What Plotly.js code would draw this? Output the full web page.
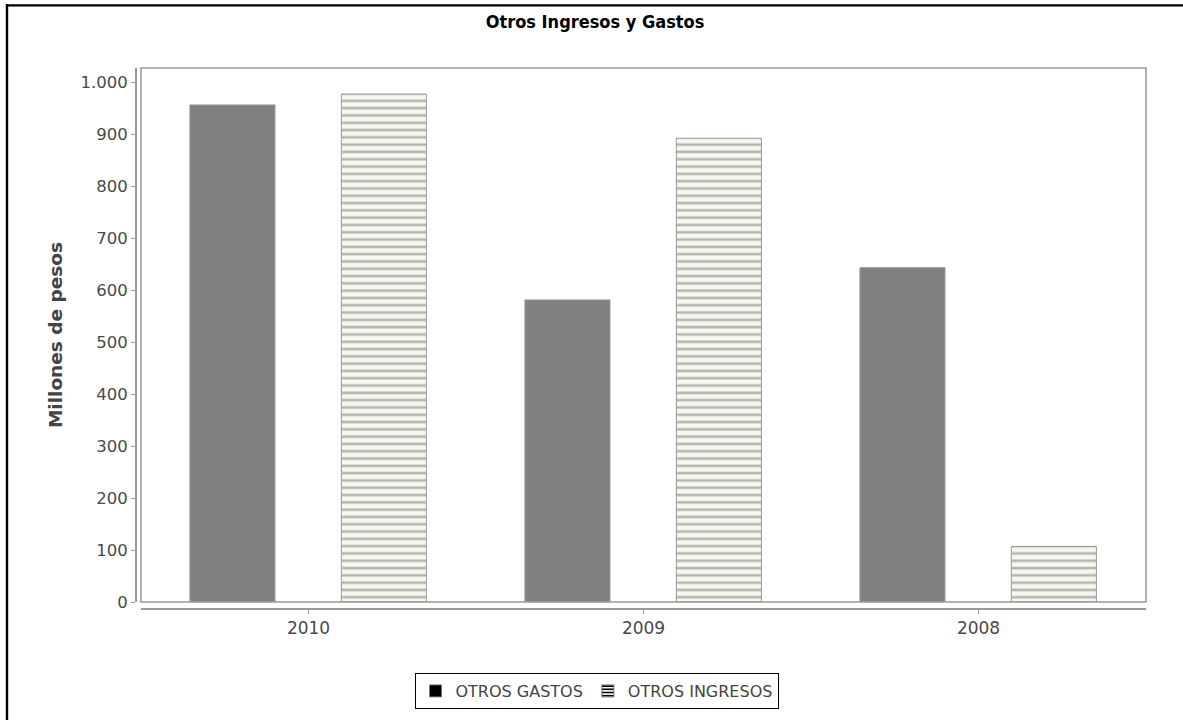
<!DOCTYPE html>
<html>
<head>
<meta charset="utf-8">
<script src="https://cdn.plot.ly/plotly-3.0.1.min.js"></script>
<style>
  html, body { margin: 0; padding: 0; background: #fff; }
  #chart { width: 1183px; height: 720px; }
</style>
</head>
<body>
<div id="chart"></div>
<script>
// Years shown on the category axis
const years = ['2010', '2009', '2008'];
// Millions of pesos per year
const otrosGastos = [956, 581, 643];
const otrosIngresos = [977, 892, 107];
const seriesNames = ['OTROS GASTOS', 'OTROS INGRESOS'];
const chartTitle = 'Otros Ingresos y Gastos';
const yTitle = 'Millones de pesos';
const yTickVals = [0, 100, 200, 300, 400, 500, 600, 700, 800, 900, 1000];
const yTickText = ['0', '100', '200', '300', '400', '500', '600', '700', '800', '900', '1.000'];

const BAR_W = 0.254;
const GASTOS_OFF = -0.354;
const INGRESOS_OFF = 0.098;
const empty = years.map(() => null);

const stripe = (fg, bg, sol) => ({ shape: '-', fgcolor: fg, bgcolor: bg, size: 7.3, solidity: sol, fillmode: 'overlay' });

const traces = [
  {
    type: 'bar', x: years, y: otrosGastos, name: seriesNames[0],
    width: BAR_W, offset: GASTOS_OFF, showlegend: false,
    marker: { color: '#808080', line: { color: '#9a9a9a', width: 1 } },
    hoverinfo: 'x+y'
  },
  {
    type: 'bar', x: years, y: otrosIngresos, name: seriesNames[1],
    width: BAR_W, offset: INGRESOS_OFF, showlegend: false,
    marker: { color: '#f7f7ef', pattern: stripe('#767676', '#f7f7ef', 0.36), line: { color: '#9a9a9a', width: 1 } },
    hoverinfo: 'x+y'
  },
  // legend entries (black swatches)
  {
    type: 'bar', x: years, y: empty, name: seriesNames[0],
    width: BAR_W, offset: GASTOS_OFF, hoverinfo: 'skip',
    marker: { color: '#000000', line: { color: '#777', width: 1 } }
  },
  {
    type: 'bar', x: years, y: empty, name: seriesNames[1],
    width: BAR_W, offset: INGRESOS_OFF, hoverinfo: 'skip',
    marker: { color: '#f2f2e6', pattern: { shape: '-', fgcolor: '#000', bgcolor: '#f2f2e6', size: 4, solidity: 0.5 }, line: { color: '#777', width: 1 } }
  }
];

// page geometry in pixels
const W = 1183, H = 720;
const padL = 135, padR = 36, padT = 68, padB = 111;
const pw = W - padL - padR, ph = H - padT - padB;
const px = v => (v - padL) / pw;
const py = v => (H - padB - v) / ph;

const layout = {
  width: W, height: H,
  paper_bgcolor: '#ffffff', plot_bgcolor: '#ffffff',
  margin: { l: padL, r: padR, t: padT, b: padB },
  barmode: 'overlay',
  font: { family: 'DejaVu Sans, sans-serif', color: '#444' },
  title: {
    text: '<b>' + chartTitle + '</b>',
    font: { family: 'DejaVu Sans Condensed, DejaVu Sans, sans-serif', size: 18, color: '#000' },
    x: 595 / W, xanchor: 'center', xref: 'container',
    y: 1 - 22 / H, yanchor: 'middle', yref: 'container'
  },
  xaxis: {
    type: 'category', domain: [px(141), px(1146)], range: [-0.5, 2.5],
    anchor: 'free', position: 0,
    showline: true, linecolor: '#999', linewidth: 1.5,
    ticks: 'outside', ticklen: 4, tickcolor: '#999',
    showgrid: false, zeroline: false,
    tickfont: { size: 17, color: '#4a4a4a' }
  },
  yaxis: {
    domain: [py(603), 1], range: [0, 1027],
    anchor: 'free', position: 0,
    showline: true, linecolor: '#999', linewidth: 1.5,
    ticks: 'outside', ticklen: 4, tickcolor: '#999',
    tickvals: yTickVals, ticktext: yTickText,
    showgrid: false, zeroline: false,
    tickfont: { size: 16.5, color: '#4a4a4a' },
    title: { text: '<b>' + yTitle + '</b>', font: { size: 18.5, color: '#444' }, standoff: 11 }
  },
  legend: {
    orientation: 'h', x: px(596.5), xanchor: 'center', y: py(673), yanchor: 'top',
    bordercolor: '#000', borderwidth: 1, bgcolor: '#fff',
    font: { size: 16, color: '#444' }, traceorder: 'normal'
  },
  shapes: [
    // plot frame
    { type: 'rect', xref: 'x domain', yref: 'y domain', x0: 0, x1: 1, y0: 0, y1: 1,
      line: { color: '#999', width: 1.5 }, fillcolor: 'rgba(0,0,0,0)', layer: 'above' },
    // page border, top and left
    { type: 'line', xref: 'paper', yref: 'paper', x0: px(6), x1: px(W + 2), y0: py(5.3), y1: py(5.3),
      line: { color: '#000', width: 2.4 } },
    { type: 'line', xref: 'paper', yref: 'paper', x0: px(7), x1: px(7), y0: py(4), y1: py(H + 2),
      line: { color: '#000', width: 2.4 } }
  ],
  showlegend: true
};

Plotly.newPlot('chart', traces, layout, { displayModeBar: false, staticPlot: true });
</script>
</body>
</html>
